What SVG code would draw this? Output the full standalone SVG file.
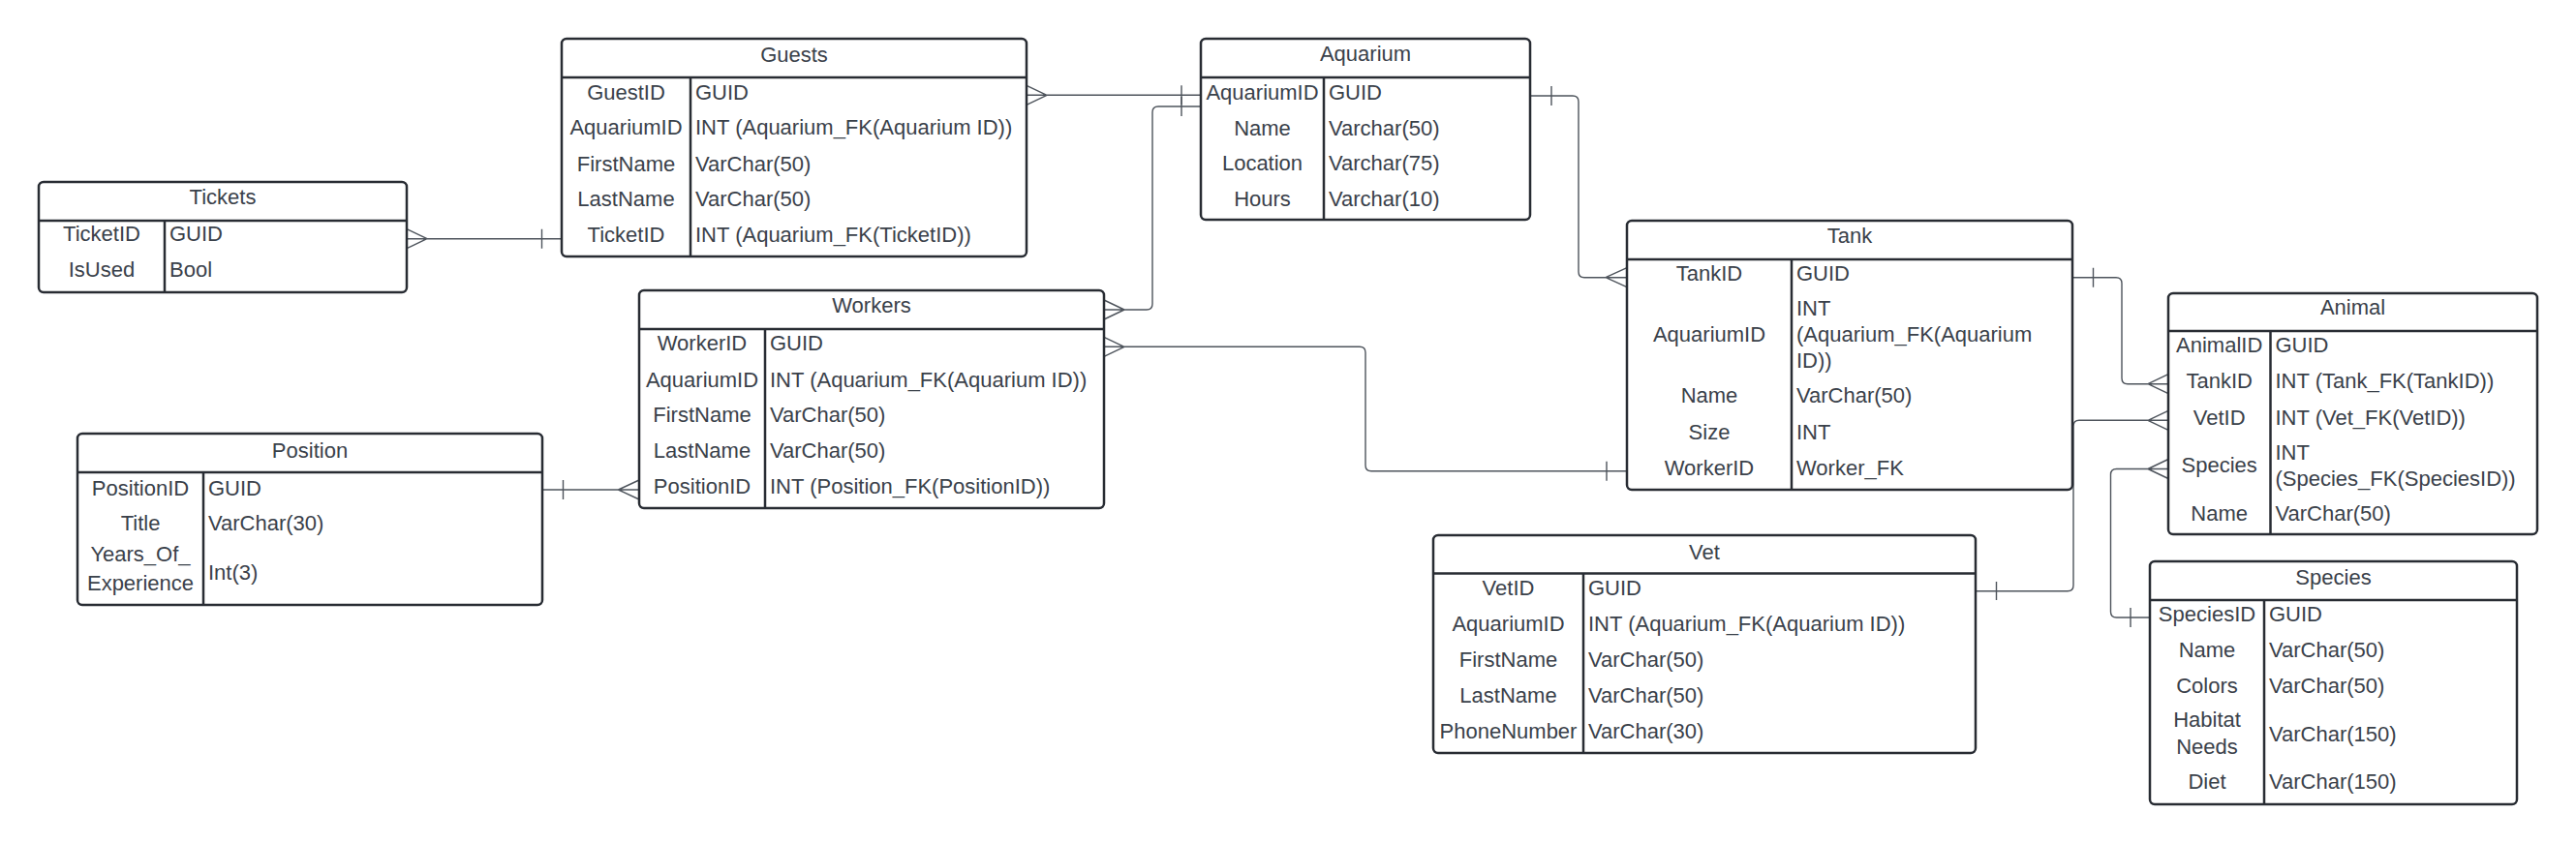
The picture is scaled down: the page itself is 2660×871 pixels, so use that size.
<svg xmlns="http://www.w3.org/2000/svg" width="2660" height="871" viewBox="0 0 2660 871">
<style>
.box{fill:#ffffff;stroke:#282c33;stroke-width:2.5}
.ln{stroke:#282c33;stroke-width:2.5;fill:none}
text{font-family:"Liberation Sans",Arial,sans-serif;font-size:22px;fill:#3a414a;transform:translateY(-1.5px)}
.c{text-anchor:middle}
.cn{fill:none;stroke:#4e545c;stroke-width:1.4}
</style>
<rect width="2660" height="871" fill="#ffffff"/>
<g id="connectors">
<path class="cn" d="M420,246.7 H580 M441,246.7 L420,236.7 M441,246.7 L420,256.7 M559.5,236.7 V256.7"/>
<path class="cn" d="M1060,98.3 H1240 M1081,98.3 L1060,88.3 M1081,98.3 L1060,108.3 M1220,88.3 V108.3"/>
<path class="cn" d="M1240,110 H1196 Q1190,110 1190,116 V314 Q1190,320 1184,320 H1140 M1161,320 L1140,310 M1161,320 L1140,330 M1220,100 V120"/>
<path class="cn" d="M1580,99 H1624 Q1630,99 1630,105 V280.7 Q1630,286.7 1636,286.7 H1680 M1602,89 V109 M1658,286.7 L1680,276.7 M1658,286.7 L1680,296.7"/>
<path class="cn" d="M2140,286.7 H2185 Q2191,286.7 2191,292.7 V390.7 Q2191,396.7 2197,396.7 H2239 M2161.5,276.7 V296.7 M2218,396.7 L2239,386.7 M2218,396.7 L2239,406.7"/>
<path class="cn" d="M1140,358.3 H1404 Q1410,358.3 1410,364.3 V480.7 Q1410,486.7 1416,486.7 H1680 M1161,358.3 L1140,348.3 M1161,358.3 L1140,368.3 M1659,476.7 V496.7"/>
<path class="cn" d="M2040,610.7 H2135 Q2141,610.7 2141,604.7 V440.3 Q2141,434.3 2147,434.3 H2239 M2061.5,601 V620 M2218,434.3 L2239,424.3 M2218,434.3 L2239,444.3"/>
<path class="cn" d="M2220,638 H2185.5 Q2179.5,638 2179.5,632 V490.5 Q2179.5,484.5 2185.5,484.5 H2239 M2200,628 V648 M2218,484.5 L2239,474.5 M2218,484.5 L2239,494.5"/>
<path class="cn" d="M560,506 H660 M581.5,496 V516 M638.5,506 L660,496 M638.5,506 L660,516"/>
</g>
<g id="tickets">
<rect class="box" x="40" y="188" width="380" height="114" rx="5"/>
<path class="ln" d="M40,228 H420 M170,228 V302"/>
<text class="c" x="230" y="212.5">Tickets</text>
<text class="c" x="105" y="250.5">TicketID</text><text x="175" y="250.5">GUID</text>
<text class="c" x="105" y="287.5">IsUsed</text><text x="175" y="287.5">Bool</text>
</g>
<g id="guests">
<rect class="box" x="580" y="40" width="480" height="225" rx="5"/>
<path class="ln" d="M580,80 H1060 M713,80 V265"/>
<text class="c" x="820" y="65">Guests</text>
<text class="c" x="646.5" y="104">GuestID</text><text x="718" y="104">GUID</text>
<text class="c" x="646.5" y="140.5">AquariumID</text><text x="718" y="140.5">INT (Aquarium_FK(Aquarium ID))</text>
<text class="c" x="646.5" y="178">FirstName</text><text x="718" y="178">VarChar(50)</text>
<text class="c" x="646.5" y="214.5">LastName</text><text x="718" y="214.5">VarChar(50)</text>
<text class="c" x="646.5" y="251.5">TicketID</text><text x="718" y="251.5">INT (Aquarium_FK(TicketID))</text>
</g>
<g id="aquarium">
<rect class="box" x="1240" y="40" width="340" height="187" rx="5"/>
<path class="ln" d="M1240,80 H1580 M1367,80 V227"/>
<text class="c" x="1410" y="64">Aquarium</text>
<text class="c" x="1303.5" y="104">AquariumID</text><text x="1372" y="104">GUID</text>
<text class="c" x="1303.5" y="141">Name</text><text x="1372" y="141">Varchar(50)</text>
<text class="c" x="1303.5" y="177.5">Location</text><text x="1372" y="177.5">Varchar(75)</text>
<text class="c" x="1303.5" y="214">Hours</text><text x="1372" y="214">Varchar(10)</text>
</g>
<g id="tank">
<rect class="box" x="1680" y="228" width="460" height="278" rx="5"/>
<path class="ln" d="M1680,268 H2140 M1850,268 V506"/>
<text class="c" x="1910" y="252.5">Tank</text>
<text class="c" x="1765" y="291">TankID</text><text x="1855" y="291">GUID</text>
<text class="c" x="1765" y="354">AquariumID</text>
<text x="1855" y="327.5">INT</text><text x="1855" y="354">(Aquarium_FK(Aquarium</text><text x="1855" y="381">ID))</text>
<text class="c" x="1765" y="417.5">Name</text><text x="1855" y="417.5">VarChar(50)</text>
<text class="c" x="1765" y="455">Size</text><text x="1855" y="455">INT</text>
<text class="c" x="1765" y="492.5">WorkerID</text><text x="1855" y="492.5">Worker_FK</text>
</g>
<g id="animal">
<rect class="box" x="2239" y="303" width="381" height="249" rx="5"/>
<path class="ln" d="M2239,342 H2620 M2344.5,342 V552"/>
<text class="c" x="2429.5" y="326.5">Animal</text>
<text class="c" x="2291.7" y="365">AnimalID</text><text x="2349.5" y="365">GUID</text>
<text class="c" x="2291.7" y="402.5">TankID</text><text x="2349.5" y="402.5">INT (Tank_FK(TankID))</text>
<text class="c" x="2291.7" y="440">VetID</text><text x="2349.5" y="440">INT (Vet_FK(VetID))</text>
<text class="c" x="2291.7" y="489">Species</text><text x="2349.5" y="476">INT</text><text x="2349.5" y="503.5">(Species_FK(SpeciesID))</text>
<text class="c" x="2291.7" y="539">Name</text><text x="2349.5" y="539">VarChar(50)</text>
</g>
<g id="workers">
<rect class="box" x="660" y="300" width="480" height="225" rx="5"/>
<path class="ln" d="M660,340 H1140 M790,340 V525"/>
<text class="c" x="900" y="324">Workers</text>
<text class="c" x="725" y="363.5">WorkerID</text><text x="795" y="363.5">GUID</text>
<text class="c" x="725" y="401">AquariumID</text><text x="795" y="401">INT (Aquarium_FK(Aquarium ID))</text>
<text class="c" x="725" y="437.5">FirstName</text><text x="795" y="437.5">VarChar(50)</text>
<text class="c" x="725" y="474">LastName</text><text x="795" y="474">VarChar(50)</text>
<text class="c" x="725" y="511">PositionID</text><text x="795" y="511">INT (Position_FK(PositionID))</text>
</g>
<g id="position">
<rect class="box" x="80" y="448" width="480" height="177" rx="5"/>
<path class="ln" d="M80,488 H560 M210,488 V625"/>
<text class="c" x="320" y="474">Position</text>
<text class="c" x="145" y="513.5">PositionID</text><text x="215" y="513.5">GUID</text>
<text class="c" x="145" y="549">Title</text><text x="215" y="549">VarChar(30)</text>
<text class="c" x="145" y="581.5">Years_Of_</text><text class="c" x="145" y="611">Experience</text><text x="215" y="600">Int(3)</text>
</g>
<g id="vet">
<rect class="box" x="1480" y="553" width="560" height="225" rx="5"/>
<path class="ln" d="M1480,592.5 H2040 M1635,592.5 V778"/>
<text class="c" x="1760" y="579">Vet</text>
<text class="c" x="1557.5" y="616.5">VetID</text><text x="1640" y="616.5">GUID</text>
<text class="c" x="1557.5" y="653">AquariumID</text><text x="1640" y="653">INT (Aquarium_FK(Aquarium ID))</text>
<text class="c" x="1557.5" y="690">FirstName</text><text x="1640" y="690">VarChar(50)</text>
<text class="c" x="1557.5" y="727">LastName</text><text x="1640" y="727">VarChar(50)</text>
<text class="c" x="1557.5" y="764">PhoneNumber</text><text x="1640" y="764">VarChar(30)</text>
</g>
<g id="species">
<rect class="box" x="2220" y="580" width="379" height="251" rx="5"/>
<path class="ln" d="M2220,620 H2599 M2338,620 V831"/>
<text class="c" x="2409.5" y="605">Species</text>
<text class="c" x="2279" y="643.5">SpeciesID</text><text x="2343" y="643.5">GUID</text>
<text class="c" x="2279" y="680">Name</text><text x="2343" y="680">VarChar(50)</text>
<text class="c" x="2279" y="717">Colors</text><text x="2343" y="717">VarChar(50)</text>
<text class="c" x="2279" y="752.5">Habitat</text><text class="c" x="2279" y="780">Needs</text><text x="2343" y="767">VarChar(150)</text>
<text class="c" x="2279" y="816">Diet</text><text x="2343" y="816">VarChar(150)</text>
</g>
</svg>
